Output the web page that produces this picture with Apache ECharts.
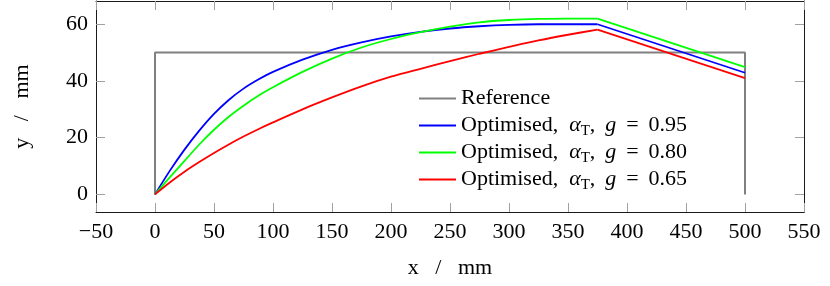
<!DOCTYPE html>
<html>
<head>
<meta charset="utf-8">
<script src="https://cdn.jsdelivr.net/npm/echarts@6/dist/echarts.min.js"></script>
<style>
html,body{margin:0;padding:0;background:#fff;}
#chart{width:830px;height:286px;}
</style>
</head>
<body>
<div id="chart"></div>
<script>
// ---- data ----
var xTickLabels = [-50, 0, 50, 100, 150, 200, 250, 300, 350, 400, 450, 500, 550];
var yTickLabels = [0, 20, 40, 60];

var refX = [0, 0, 500, 500];
var refY = [0, 50, 50, 0];

var optX = [0, 12.5, 25, 37.5, 50, 62.5, 75, 87.5, 100, 125, 150, 175, 200, 225, 250, 275, 300, 325, 350, 375, 500];
var blueY  = [0, 8.3, 15.8, 22.5, 28.4, 33.3, 37.3, 40.5, 43.2, 47.5, 51.0, 53.6, 55.7, 57.3, 58.5, 59.3, 59.8, 60.0, 60.0, 60.0, 42.9];
var greenY = [0, 6.0, 11.8, 17.6, 22.8, 27.4, 31.3, 34.8, 37.8, 43.2, 47.9, 51.8, 54.8, 57.2, 59.2, 60.7, 61.5, 61.9, 62.0, 62.0, 44.9];
var redY   = [0, 4.2, 8.0, 11.4, 14.6, 17.6, 20.4, 23.0, 25.4, 30.0, 34.2, 38.1, 41.5, 44.3, 47.0, 49.6, 52.0, 54.3, 56.3, 58.1, 41.0];
var peakIndex = 19; // x = 375 mm, where the curves turn

var seriesNames = ['Reference', 'Optimised, g=0.95', 'Optimised, g=0.80', 'Optimised, g=0.65'];
var gValues = ['0.95', '0.80', '0.65'];
var colors = ['#808080', '#0000ff', '#00ff00', '#ff0000'];

function pairs(xs, ys) { return xs.map(function (x, i) { return [x, ys[i]]; }); }

var FONT = '"Liberation Serif", "DejaVu Serif", serif';
var tickColor = '#a0a0a0';
var frameColor = '#1a1a1a';

var chart = echarts.init(document.getElementById('chart'), null, {renderer: 'canvas'});

function tickStyle(vals) {
  var t = {show: true, inside: true, length: 9, lineStyle: {color: tickColor, width: 1}};
  if (vals) t.customValues = vals;
  return t;
}

function axisCommon(extra) {
  var o = {
    type: 'value',
    axisLine: {show: true, onZero: false, lineStyle: {color: frameColor, width: 1}},
    splitLine: {show: false},
    axisTick: tickStyle(),
    axisLabel: {show: false}
  };
  for (var k in extra) o[k] = extra[k];
  return o;
}

var minusFmt = function (v) { return String(v).replace('-', '\u2212'); };

var series = [
  {name: seriesNames[0], type: 'line', data: pairs(refX, refY), symbol: 'none',
   lineStyle: {color: colors[0], width: 2}, itemStyle: {color: colors[0]}}
];
[blueY, greenY, redY].forEach(function (ys, i) {
  var c = colors[i + 1];
  series.push({name: seriesNames[i + 1], type: 'line', symbol: 'none', smooth: 0.3,
    data: pairs(optX.slice(0, peakIndex + 1), ys.slice(0, peakIndex + 1)),
    lineStyle: {color: c, width: 1.8}, itemStyle: {color: c}});
  series.push({name: seriesNames[i + 1], type: 'line', symbol: 'none',
    data: pairs(optX.slice(peakIndex), ys.slice(peakIndex)),
    lineStyle: {color: c, width: 1.8}, itemStyle: {color: c}});
});

var option = {
  animation: false,
  backgroundColor: '#fff',
  grid: {left: 96, right: 26, top: 1, bottom: 74, show: false},
  xAxis: [
    axisCommon({
      position: 'bottom', min: -50, max: 550, interval: 50,
      axisLabel: {show: true, fontFamily: FONT, fontSize: 22, color: '#000', margin: 9, formatter: minusFmt},
      name: 'x   /   mm', nameLocation: 'middle', nameGap: 45,
      nameTextStyle: {fontFamily: FONT, fontSize: 22, color: '#000'}
    }),
    axisCommon({position: 'top', min: -50, max: 550, interval: 50})
  ],
  yAxis: [
    axisCommon({
      position: 'left', min: -6.2, max: 68.2,
      axisTick: tickStyle(yTickLabels),
      axisLabel: {show: true, fontFamily: FONT, fontSize: 22, color: '#000', margin: 8, customValues: yTickLabels},
      name: 'y   /   mm', nameLocation: 'middle', nameGap: 63,
      nameTextStyle: {fontFamily: FONT, fontSize: 22, color: '#000'}
    }),
    axisCommon({position: 'right', min: -6.2, max: 68.2, axisTick: tickStyle(yTickLabels)})
  ],
  legend: {
    orient: 'vertical',
    left: 419, top: 85, padding: 0,
    itemWidth: 37, itemHeight: 2, itemGap: 0,
    icon: 'rect',
    data: seriesNames,
    formatter: function (name) {
      var idx = seriesNames.indexOf(name);
      if (idx === 0) return '{t|Reference}';
      return '{t|Optimised,  }{m|\u03b1}{s|T}{t|, \u2009}{m|g}{t| \u2009= \u2009' + gValues[idx - 1] + '}';
    },
    textStyle: {
      fontFamily: FONT, fontSize: 22, color: '#000', lineHeight: 27,
      rich: {
        t: {fontFamily: FONT, fontSize: 22, lineHeight: 27, color: '#000'},
        m: {fontFamily: FONT, fontSize: 22, lineHeight: 27, fontStyle: 'italic', color: '#000'},
        s: {fontFamily: FONT, fontSize: 15, lineHeight: 14, verticalAlign: 'bottom', color: '#000'}
      }
    }
  },
  series: series
};
chart.setOption(option);
</script>
</body>
</html>
